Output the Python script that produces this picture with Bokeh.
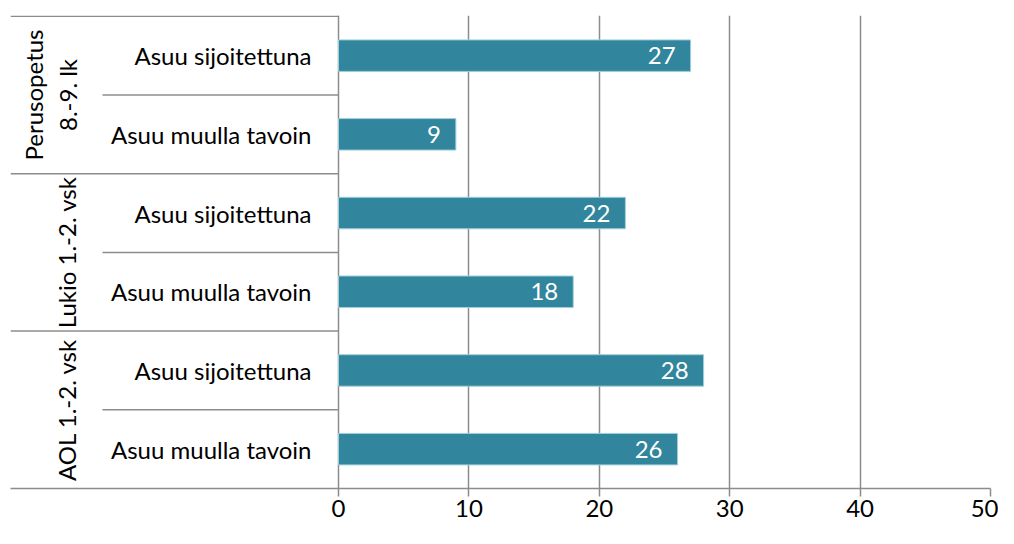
from bokeh.plotting import figure
from bokeh.models import FixedTicker, ColumnDataSource, Range1d
from bokeh.core.properties import value
from bokeh.embed import file_html
from bokeh.resources import INLINE
import math

# ---- data ----
groups = ["Perusopetus\n8.-9. lk", "Lukio 1.-2. vsk", "AOL 1.-2. vsk"]
categories = ["Asuu sijoitettuna", "Asuu muulla tavoin",
              "Asuu sijoitettuna", "Asuu muulla tavoin",
              "Asuu sijoitettuna", "Asuu muulla tavoin"]
values = [27, 9, 22, 18, 28, 26]
x_ticks = [0, 10, 20, 30, 40, 50]

FONT = "Lato"
FS = "24px"
BAR = "#31859C"
GRID = "#8c8c8c"

n = len(categories)
ys = [n - i - 0.5 for i in range(n)]

LEFT = 10          # frame left in px
frame_w = 980
zero_px = 328      # px from frame left to value 0
scale = (frame_w - zero_px) / x_ticks[-1]
x_start = -zero_px / scale


def px(x_img):
    return (x_img - LEFT - zero_px) / scale


p = figure(width=998, height=528, output_backend="svg", toolbar_location=None,
           x_range=Range1d(x_start, x_ticks[-1]), y_range=Range1d(0, n + 0.01),
           min_border_left=LEFT, min_border_right=998 - LEFT - frame_w,
           min_border_top=15, min_border_bottom=40,
           y_axis_location=None)
p.outline_line_color = None
p.background_fill_color = "white"
p.border_fill_color = "white"

# axis / grid
p.xaxis.ticker = FixedTicker(ticks=x_ticks)
p.xgrid.ticker = FixedTicker(ticks=x_ticks)
p.xgrid.grid_line_color = GRID
p.xgrid.grid_line_width = 1.5
p.ygrid.grid_line_color = None
p.xaxis.axis_line_color = GRID
p.xaxis.axis_line_width = 1.5
p.xaxis.major_tick_line_color = GRID
p.xaxis.major_tick_line_width = 1.5
p.xaxis.major_tick_out = 8
p.xaxis.major_tick_in = 0
p.xaxis.minor_tick_line_color = None
p.xaxis.major_label_standoff = 3
p.xaxis.major_label_text_font = FONT
p.xaxis.major_label_text_font_size = FS
p.xaxis.major_label_text_color = "#000000"

# bars
src = ColumnDataSource(dict(y=ys, v=values, t=[str(v) for v in values], c=categories))
p.hbar(y="y", left=0, right="v", height=0.4, source=src,
       fill_color=BAR, line_color="#9fcfdc", line_width=1)
p.text(x="v", y="y", text="t", source=src, text_align="right", text_baseline="middle",
       x_offset=-15, text_color="white", text_font=value(FONT), text_font_size=FS)

# category labels
p.text(x=0, y="y", text="c", source=src, text_align="right", text_baseline="middle",
       x_offset=-27, text_color="#000000", text_font=value(FONT), text_font_size=FS)

# separators
sub_y = [n - 1 - 2 * g for g in range(len(groups))]
grp_y = [n - 2 * g for g in range(len(groups))]
p.segment(x0=px(102), x1=0, y0=sub_y, y1=sub_y, line_color=GRID, line_width=1.5)
p.segment(x0=x_start, x1=0, y0=grp_y, y1=grp_y, line_color=GRID, line_width=1.5)

# group labels (rotated)
gy = [n - 1 - 2 * g for g in range(len(groups))]
gx = [px(50) if "\n" in g else px(66) for g in groups]
p.text(x=gx, y=gy, text=groups, angle=math.pi / 2, text_align="center",
       text_baseline="middle", text_color="#000000", text_font=value(FONT),
       text_font_size=FS, text_line_height=1.2)

open("out.html", "w").write(file_html(p, INLINE))
